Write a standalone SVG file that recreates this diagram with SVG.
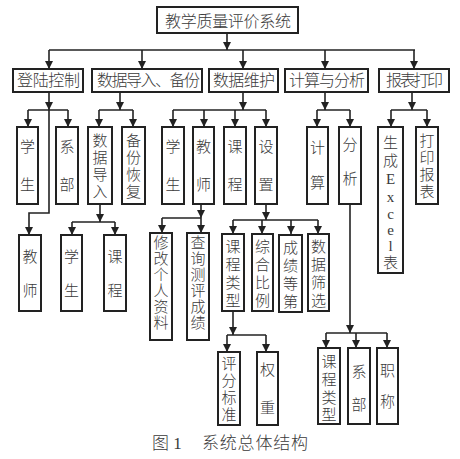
<svg xmlns="http://www.w3.org/2000/svg" width="460" height="459" viewBox="0 0 460 459">
<style>
.b{fill:#fff;stroke:#222;stroke-width:2}
.t{font-family:'Liberation Serif','Noto Sans CJK SC',serif;font-size:15px;font-weight:300;fill:#3a3a3a;text-anchor:middle;dominant-baseline:central}
.h{font-size:16px}
.c{fill:none;stroke:#222;stroke-width:1.6}
.a{marker-end:url(#ar)}
</style>
<defs>
<marker id="ar" viewBox="0 0 10 10" refX="10" refY="5" markerWidth="9" markerHeight="8" markerUnits="userSpaceOnUse" orient="auto"><path d="M0,0 L10,5 L0,10 z" fill="#222"/></marker>
</defs>
<rect width="460" height="459" fill="#fff"/>
<g id="connectors">
<path class="c a" d="M227,33 V50"/>
<path class="c" d="M49,50 H415"/>
<path class="c a" d="M49,50 V69"/>
<path class="c a" d="M142,50 V69"/>
<path class="c a" d="M243,50 V69"/>
<path class="c a" d="M325,50 V69"/>
<path class="c a" d="M414,50 V69"/>
<path class="c a" d="M49,92 V110"/>
<path class="c" d="M28,110 H68"/>
<path class="c a" d="M28,110 V127"/>
<path class="c a" d="M68,110 V127"/>
<path class="c a" d="M49,110 V213 H29 V235"/>
<path class="c a" d="M120,92 V110"/>
<path class="c" d="M99,110 H133"/>
<path class="c a" d="M99,110 V127"/>
<path class="c a" d="M133,110 V127"/>
<path class="c a" d="M243,92 V110"/>
<path class="c" d="M173,110 H266"/>
<path class="c a" d="M173,110 V127"/>
<path class="c a" d="M204,110 V127"/>
<path class="c a" d="M235,110 V127"/>
<path class="c a" d="M266,110 V127"/>
<path class="c a" d="M325,92 V110"/>
<path class="c" d="M317,110 H350"/>
<path class="c a" d="M317,110 V127"/>
<path class="c a" d="M350,110 V127"/>
<path class="c a" d="M412,92 V110"/>
<path class="c" d="M391,110 H427"/>
<path class="c a" d="M391,110 V127"/>
<path class="c a" d="M427,110 V127"/>
<path class="c a" d="M100,204 V222"/>
<path class="c" d="M72,222 H115"/>
<path class="c a" d="M72,222 V235"/>
<path class="c a" d="M115,222 V235"/>
<path class="c a" d="M201,204 V218"/>
<path class="c" d="M162,218 H201"/>
<path class="c a" d="M162,218 V233"/>
<path class="c a" d="M201,218 V233"/>
<path class="c a" d="M266,204 V220"/>
<path class="c" d="M233,220 H318"/>
<path class="c a" d="M233,220 V234"/>
<path class="c a" d="M262,220 V234"/>
<path class="c a" d="M291,220 V234"/>
<path class="c a" d="M318,220 V234"/>
<path class="c a" d="M233,311 V335"/>
<path class="c" d="M227,335 H266"/>
<path class="c a" d="M227,335 V352"/>
<path class="c a" d="M266,335 V352"/>
<path class="c a" d="M350,204 V333"/>
<path class="c" d="M326,333 H387"/>
<path class="c a" d="M326,333 V348"/>
<path class="c a" d="M356,333 V348"/>
<path class="c a" d="M387,333 V348"/>
</g>
<g id="n-root"><rect class="b" x="157" y="7" width="141" height="26"/><text class="t h" x="228" y="21" textLength="126" lengthAdjust="spacing">教学质量评价系统</text></g>
<g id="n-login"><rect class="b" x="13" y="69" width="70" height="23"/><text class="t h" x="48.5" y="80.5" textLength="63" lengthAdjust="spacing">登陆控制</text></g>
<g id="n-import"><rect class="b" x="92" y="69" width="110" height="23"/><text class="t h" x="148.5" y="80.5" textLength="103" lengthAdjust="spacing">数据导入、备份</text></g>
<g id="n-maint"><rect class="b" x="209" y="69" width="69" height="23"/><text class="t h" x="244" y="80.5" textLength="62" lengthAdjust="spacing">数据维护</text></g>
<g id="n-calc"><rect class="b" x="285" y="69" width="83" height="23"/><text class="t h" x="327" y="80.5" textLength="76" lengthAdjust="spacing">计算与分析</text></g>
<g id="n-report"><rect class="b" x="379" y="69" width="70" height="23"/><text class="t h" x="414.5" y="80.5" textLength="57" lengthAdjust="spacing">报表打印</text></g>

<g id="n-l-student"><rect class="b" x="17" y="127" width="21" height="77"/><text class="t" x="27.5" y="147">学</text><text class="t" x="27.5" y="185">生</text></g>
<g id="n-l-dept"><rect class="b" x="56" y="127" width="22" height="77"/><text class="t" x="67" y="147">系</text><text class="t" x="67" y="185">部</text></g>
<g id="n-l-teacher"><rect class="b" x="19" y="235" width="22" height="76"/><text class="t" x="30" y="257">教</text><text class="t" x="30" y="291">师</text></g>

<g id="n-dataimport"><rect class="b" x="88" y="127" width="24" height="77"/><text class="t" x="100" y="141">数</text><text class="t" x="100" y="158">据</text><text class="t" x="100" y="175">导</text><text class="t" x="100" y="192">入</text></g>
<g id="n-backup"><rect class="b" x="122" y="127" width="23" height="77"/><text class="t" x="133.5" y="141">备</text><text class="t" x="133.5" y="158">份</text><text class="t" x="133.5" y="175">恢</text><text class="t" x="133.5" y="192">复</text></g>
<g id="n-i-student"><rect class="b" x="61" y="235" width="21" height="76"/><text class="t" x="71.5" y="257">学</text><text class="t" x="71.5" y="291">生</text></g>
<g id="n-i-course"><rect class="b" x="104" y="235" width="22" height="76"/><text class="t" x="115" y="257">课</text><text class="t" x="115" y="291">程</text></g>

<g id="n-m-student"><rect class="b" x="162" y="127" width="22" height="77"/><text class="t" x="173" y="147">学</text><text class="t" x="173" y="185">生</text></g>
<g id="n-m-teacher"><rect class="b" x="193" y="127" width="21" height="77"/><text class="t" x="203.5" y="147">教</text><text class="t" x="203.5" y="185">师</text></g>
<g id="n-m-course"><rect class="b" x="224" y="127" width="22" height="77"/><text class="t" x="235" y="147">课</text><text class="t" x="235" y="185">程</text></g>
<g id="n-m-setting"><rect class="b" x="255" y="127" width="22" height="77"/><text class="t" x="266" y="147">设</text><text class="t" x="266" y="185">置</text></g>

<g id="n-modify"><rect class="b" x="150" y="233" width="22" height="107"/><text class="t" x="161" y="243">修</text><text class="t" x="161" y="259">改</text><text class="t" x="161" y="275">个</text><text class="t" x="161" y="291">人</text><text class="t" x="161" y="307">资</text><text class="t" x="161" y="323">料</text></g>
<g id="n-query"><rect class="b" x="187" y="233" width="22" height="107"/><text class="t" x="198" y="243">查</text><text class="t" x="198" y="259">询</text><text class="t" x="198" y="275">测</text><text class="t" x="198" y="291">评</text><text class="t" x="198" y="307">成</text><text class="t" x="198" y="323">绩</text></g>

<g id="n-s-type"><rect class="b" x="222" y="234" width="22" height="77"/><text class="t" x="233" y="247">课</text><text class="t" x="233" y="265">程</text><text class="t" x="233" y="283">类</text><text class="t" x="233" y="301">型</text></g>
<g id="n-s-ratio"><rect class="b" x="252" y="234" width="21" height="77"/><text class="t" x="262.5" y="247">综</text><text class="t" x="262.5" y="265">合</text><text class="t" x="262.5" y="283">比</text><text class="t" x="262.5" y="301">例</text></g>
<g id="n-s-grade"><rect class="b" x="279" y="235" width="23" height="77"/><text class="t" x="290.5" y="248">成</text><text class="t" x="290.5" y="266">绩</text><text class="t" x="290.5" y="284">等</text><text class="t" x="290.5" y="302">第</text></g>
<g id="n-s-filter"><rect class="b" x="308" y="234" width="21" height="77"/><text class="t" x="318.5" y="247">数</text><text class="t" x="318.5" y="265">据</text><text class="t" x="318.5" y="283">筛</text><text class="t" x="318.5" y="301">选</text></g>

<g id="n-standard"><rect class="b" x="218" y="352" width="22" height="73"/><text class="t" x="229" y="364">评</text><text class="t" x="229" y="381">分</text><text class="t" x="229" y="398">标</text><text class="t" x="229" y="415">准</text></g>
<g id="n-weight"><rect class="b" x="257" y="352" width="21" height="73"/><text class="t" x="267.5" y="370">权</text><text class="t" x="267.5" y="408">重</text></g>

<g id="n-c-calc"><rect class="b" x="307" y="127" width="21" height="77"/><text class="t" x="317.5" y="148">计</text><text class="t" x="317.5" y="183">算</text></g>
<g id="n-c-analysis"><rect class="b" x="339" y="127" width="22" height="77"/><text class="t" x="350" y="145">分</text><text class="t" x="350" y="179">析</text></g>
<g id="n-a-type"><rect class="b" x="318" y="348" width="22" height="76"/><text class="t" x="329" y="362">课</text><text class="t" x="329" y="380">程</text><text class="t" x="329" y="398">类</text><text class="t" x="329" y="415">型</text></g>
<g id="n-a-dept"><rect class="b" x="348" y="348" width="22" height="76"/><text class="t" x="359" y="372">系</text><text class="t" x="359" y="405">部</text></g>
<g id="n-a-title"><rect class="b" x="377" y="348" width="21" height="76"/><text class="t" x="387.5" y="371">职</text><text class="t" x="387.5" y="402">称</text></g>

<g id="n-excel"><rect class="b" x="378" y="127" width="25" height="146"/><text class="t" x="390.5" y="143">生</text><text class="t" x="390.5" y="161">成</text><text class="t" x="390.5" y="179">E</text><text class="t" x="390.5" y="197">x</text><text class="t" x="390.5" y="214">c</text><text class="t" x="390.5" y="230">e</text><text class="t" x="390.5" y="246">l</text><text class="t" x="390.5" y="263">表</text></g>
<g id="n-print"><rect class="b" x="416" y="127" width="22" height="77"/><text class="t" x="427" y="141">打</text><text class="t" x="427" y="158">印</text><text class="t" x="427" y="175">报</text><text class="t" x="427" y="192">表</text></g>

<g id="caption"><text class="t" style="font-size:17px;text-anchor:start" x="152" y="443">图 1</text><text class="t" style="font-size:17px;text-anchor:start" x="202" y="443" textLength="106" lengthAdjust="spacing">系统总体结构</text></g>
</svg>
